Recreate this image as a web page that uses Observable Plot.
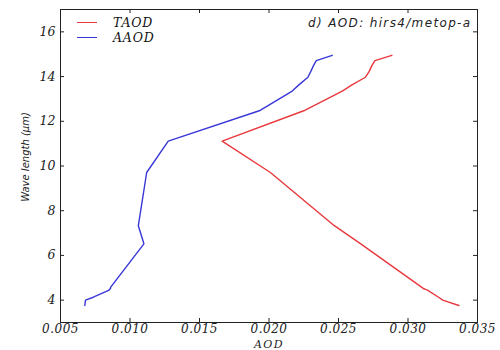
<!DOCTYPE html>
<html><head><meta charset="utf-8">
<script src="https://cdn.jsdelivr.net/npm/d3@7"></script>
<script src="https://cdn.jsdelivr.net/npm/@observablehq/plot@0.6"></script>
<style>
body{margin:0;background:#fff}
#wrap{position:relative;width:500px;height:350px}
#legend{position:absolute;left:77px;top:15px;font:italic 12.5px "DejaVu Serif";letter-spacing:0.8px;color:#111}
.row{display:flex;align-items:center;height:15px}
.sw{width:20px;height:0;border-top:1.5px solid;margin-right:16px}
</style></head><body><div id="wrap"><div id="legend"></div></div>
<script>
const wavelength = [14.95,14.71,14.49,14.22,13.97,13.64,13.35,12.47,11.11,9.71,7.33,6.52,4.57,4.52,4.47,4.45,4.13,4.00,3.76];
const taod = [0.02884,0.02762,0.0274,0.0272,0.02694,0.0260,0.02527,0.0225,0.01663,0.0201,0.0247,0.0266,0.0310,0.0311,0.0313,0.0314,0.0322,0.0325,0.03366];
const aaod = [0.02455,0.0234,0.0232,0.0230,0.0228,0.02217,0.02167,0.0193,0.01275,0.0112,0.0106,0.0110,0.0086,0.0086,0.0085,0.0085,0.00736,0.0068,0.00675];
const seriesNames = ["TAOD","AAOD"];
const seriesColors = ["#e8383d","#3838d8"];
const xTicks = [0.005,0.010,0.015,0.020,0.025,0.030,0.035];
const yTicks = [4,6,8,10,12,14,16];
const annotation = "d) AOD: hirs4/metop-a";
const xLabel = "AOD";
const yLabel = "Wave length (\u03bcm)";

const rows = [];
wavelength.forEach((w,i)=>{
  rows.push({series:seriesNames[0], wl:w, v:taod[i]});
  rows.push({series:seriesNames[1], wl:w, v:aaod[i]});
});

const W=500,H=350,mL=60,mR=23,mT=9,mB=28;
const pw=W-mL-mR, ph=H-mT-mB;
const serif='"DejaVu Serif", serif';
const sans='"DejaVu Sans", sans-serif';

const chart = Plot.plot({
  width:W, height:H, marginLeft:mL, marginRight:mR, marginTop:mT, marginBottom:mB,
  style:{background:"#fff", overflow:"visible"},
  x:{domain:[0.005,0.035]},
  y:{domain:[3,17]},
  color:{domain:seriesNames, range:seriesColors},
  marks:[
    Plot.line(rows,{x:"v", y:"wl", z:"series", stroke:"series", strokeWidth:1.4, sort:{channel:"y", order:"descending"}}),
    Plot.frame({stroke:"#222", strokeWidth:1}),
    Plot.tickX(xTicks,{x:d=>d, insetTop:ph-4, stroke:"#222"}),
    Plot.tickX(xTicks,{x:d=>d, insetBottom:ph-4, stroke:"#222"}),
    Plot.tickY(yTicks,{y:d=>d, insetRight:pw-4, stroke:"#222"}),
    Plot.tickY(yTicks,{y:d=>d, insetLeft:pw-4, stroke:"#222"}),
    Plot.axisX({ticks:xTicks, tickSize:0, tickPadding:2, tickFormat:d3.format(".3f"), label:null,
      fontFamily:serif, fontStyle:"italic", fontSize:12, fill:"#222"}),
    Plot.axisY({ticks:yTicks, tickSize:0, tickPadding:5, label:null,
      fontFamily:serif, fontStyle:"italic", fontSize:12.5, fill:"#222"}),
    Plot.text([xLabel],{frameAnchor:"bottom", lineAnchor:"middle", textAnchor:"middle", dy:21.5, fontFamily:serif, fontStyle:"italic", fontSize:11, fill:"#222"}),
    Plot.text([yLabel],{frameAnchor:"left", lineAnchor:"middle", textAnchor:"middle", dx:-35, dy:-9, rotate:-90, fontFamily:sans, fontStyle:"italic", fontSize:10, fill:"#222"}),
    Plot.text([annotation],{frameAnchor:"top-right", lineAnchor:"middle", textAnchor:"end", dx:-6, dy:13.5, fontFamily:sans, fontStyle:"italic", fontSize:12, fill:"#222"})
  ]
});
document.getElementById("wrap").prepend(chart);

// widen text to mimic the horizontally stretched reference
d3.select(chart).selectAll("text").each(function(){
  const t=this.textContent;
  if(t===annotation) this.style.letterSpacing="1.35px";
  else if(t===xLabel) this.style.letterSpacing="1.4px";
  else if(/^0\.0/.test(t)) this.style.letterSpacing="0.5px";
});

const lg = document.getElementById("legend");
seriesNames.forEach((n,i)=>{
  const r=document.createElement("div"); r.className="row";
  const s=document.createElement("div"); s.className="sw"; s.style.borderTopColor=seriesColors[i];
  const t=document.createElement("span"); t.textContent=n;
  r.append(s,t); lg.append(r);
});
</script></body></html>
